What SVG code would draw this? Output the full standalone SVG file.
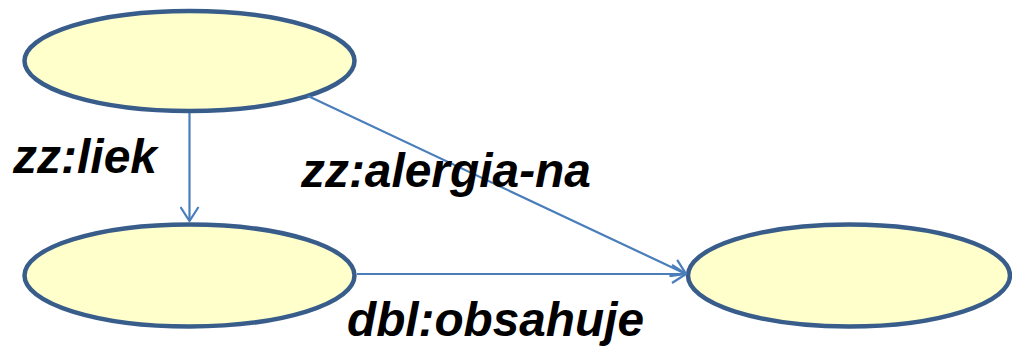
<svg xmlns="http://www.w3.org/2000/svg" width="1012" height="347" viewBox="0 0 1012 347">
<style>
.node{fill:#ffffcc;stroke:#385d8a;stroke-width:4.5}
.edge{fill:none;stroke:#4a7ebb;stroke-width:2.2}
.lbl{font-family:"Liberation Sans",Arial,sans-serif;font-weight:bold;font-style:italic;font-size:48px;fill:#000}
</style>
<defs>
<marker id="arr" viewBox="0 0 16 20" refX="15" refY="10" markerWidth="16" markerHeight="20" markerUnits="userSpaceOnUse" orient="auto">
<path d="M1,1 L15,10 L1,19" fill="none" stroke="#4a7ebb" stroke-width="2.2"/>
</marker>
</defs>
<g id="n1"><ellipse class="node" cx="189.5" cy="61" rx="165" ry="50"/></g>
<g id="n2"><ellipse class="node" cx="189.5" cy="275.5" rx="165" ry="51"/></g>
<g id="n3"><ellipse class="node" cx="849" cy="275.5" rx="161" ry="51"/></g>
<g id="edges">
<line class="edge" x1="189.5" y1="113" x2="189.5" y2="221" marker-end="url(#arr)"/>
<line class="edge" x1="308" y1="96" x2="686" y2="274" marker-end="url(#arr)"/>
<line class="edge" x1="357" y1="274" x2="686" y2="274" marker-end="url(#arr)"/>
</g>
<text class="lbl" x="13" y="173" textLength="144" lengthAdjust="spacingAndGlyphs">zz:liek</text>
<text class="lbl" x="301" y="187" textLength="290" lengthAdjust="spacingAndGlyphs">zz:alergia-na</text>
<text class="lbl" x="347" y="336" textLength="297" lengthAdjust="spacingAndGlyphs">dbl:obsahuje</text>
</svg>
